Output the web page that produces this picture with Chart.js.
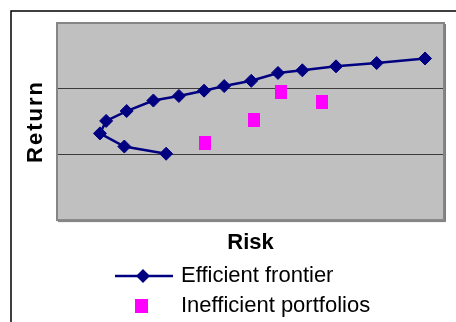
<!DOCTYPE html>
<html>
<head>
<meta charset="utf-8">
<title>Efficient frontier</title>
<script src="https://cdn.jsdelivr.net/npm/chart.js@4.4.1/dist/chart.umd.min.js"></script>
<style>
  body { margin: 0; background: #fff; }
  #wrap { width: 456px; height: 322px; }
</style>
</head>
<body>
<div id="wrap"><canvas id="frontierChart"></canvas></div>
<script>
// Verilen değerler (resimden okunan tahmini değerler)
const frontierRisk = [2.82, 1.74, 1.11, 1.27, 1.80, 2.49, 3.15, 3.80, 4.32, 5.02, 5.71, 6.34, 7.21, 8.26, 9.51];
const frontierReturn = [1.01, 1.12, 1.32, 1.51, 1.66, 1.82, 1.89, 1.97, 2.04, 2.12, 2.24, 2.28, 2.34, 2.39, 2.46];
const portfolioRisk = [3.82, 5.09, 5.79, 6.86];
const portfolioReturn = [1.18, 1.52, 1.95, 1.79];
const seriesNames = ["Efficient frontier", "Inefficient portfolios"];
const returnTicks = [0, 1, 2, 3];
const riskRange = [0, 10];

const NAVY = "#000080";
const MAGENTA = "#FF00FF";
const FONT = "Arial, 'Liberation Sans', sans-serif";

// Küçük ikon çizen yardımcı fonksiyon
function makeIcon(w, h, draw) {
    const c = document.createElement("canvas");
    c.width = w;
    c.height = h;
    draw(c.getContext("2d"));
    return c;
}

function diamond(ctx, x, y, r) {
    ctx.beginPath();
    ctx.moveTo(x - r, y);
    ctx.lineTo(x, y - r);
    ctx.lineTo(x + r, y);
    ctx.lineTo(x, y + r);
    ctx.closePath();
    ctx.fill();
}

const squareMark = makeIcon(12, 14, ctx => {
    ctx.fillStyle = MAGENTA;
    ctx.fillRect(0, 0, 12, 14);
});

const legendIcons = [
    makeIcon(58, 16, ctx => {
        ctx.strokeStyle = NAVY;
        ctx.lineWidth = 2.5;
        ctx.beginPath();
        ctx.moveTo(0, 8);
        ctx.lineTo(58, 8);
        ctx.stroke();
        ctx.fillStyle = NAVY;
        diamond(ctx, 28, 8, 7);
    }),
    makeIcon(58, 16, ctx => {
        ctx.fillStyle = MAGENTA;
        ctx.fillRect(20, 1, 13, 14);
    }),
];

// Arka plan, çerçeve ve lejant konumu
const plotFrame = {
    id: "plotFrame",
    afterLayout(chart) {
        const lg = chart.legend;
        const w = lg.right - lg.left;
        lg.left = 110;
        lg.right = 110 + w;

        const y = chart.scales.y;
        if (!y.spacedTitle) {
            const drawTitle = y.drawTitle;
            y.drawTitle = function () {
                this.ctx.save();
                this.ctx.letterSpacing = "2px";
                drawTitle.call(this);
                this.ctx.restore();
            };
            y.spacedTitle = true;
        }
    },
    beforeDraw(chart) {
        const { ctx, chartArea: a } = chart;
        ctx.save();
        ctx.fillStyle = "#fff";
        ctx.fillRect(0, 0, chart.width, chart.height);
        ctx.strokeStyle = "#000";
        ctx.lineWidth = 1.5;
        ctx.beginPath();
        ctx.moveTo(11, chart.height);
        ctx.lineTo(11, 11);
        ctx.lineTo(chart.width, 11);
        ctx.stroke();
        ctx.fillStyle = "#C0C0C0";
        ctx.fillRect(a.left, a.top, a.width, a.height);
        ctx.restore();
    },
    beforeDatasetsDraw(chart) {
        const { ctx, chartArea: a } = chart;
        ctx.save();
        ctx.strokeStyle = "#858585";
        ctx.lineWidth = 2;
        ctx.strokeRect(a.left, a.top, a.width, a.height);
        ctx.strokeStyle = "#7a7a7a";
        ctx.lineWidth = 1;
        ctx.beginPath();
        ctx.moveTo(a.left + 1, a.bottom + 1.5);
        ctx.lineTo(a.right + 1.5, a.bottom + 1.5);
        ctx.lineTo(a.right + 1.5, a.top + 1);
        ctx.stroke();
        ctx.restore();
    },
};

new Chart(document.getElementById("frontierChart"), {
    type: "scatter",
    data: {
        datasets: [
            {
                label: seriesNames[0],
                data: frontierRisk.map((r, i) => ({ x: r, y: frontierReturn[i] })),
                showLine: true,
                borderColor: NAVY,
                borderWidth: 2.5,
                backgroundColor: NAVY,
                pointStyle: "rectRot",
                pointRadius: 6.5,
                pointBorderWidth: 1,
                pointBorderColor: NAVY,
                pointBackgroundColor: NAVY,
                tension: 0,
            },
            {
                label: seriesNames[1],
                data: portfolioRisk.map((r, i) => ({ x: r, y: portfolioReturn[i] })),
                pointStyle: squareMark,
                backgroundColor: MAGENTA,
                borderColor: MAGENTA,
            },
        ],
    },
    options: {
        responsive: true,
        maintainAspectRatio: false,
        animation: false,
        layout: { padding: { top: 23, right: 12, left: 12, bottom: -5 } },
        plugins: {
            tooltip: { enabled: false },
            legend: {
                display: true,
                position: "bottom",
                align: "start",
                fullSize: false,
                labels: {
                    usePointStyle: true,
                    pointStyleWidth: 52,
                    padding: 8,
                    color: "#000",
                    font: { family: FONT, size: 22 },
                    generateLabels(chart) {
                        const items = Chart.defaults.plugins.legend.labels.generateLabels(chart);
                        items.forEach((item, i) => { item.pointStyle = legendIcons[i]; });
                        return items;
                    },
                },
            },
        },
        scales: {
            x: {
                type: "linear",
                min: riskRange[0],
                max: riskRange[1],
                grid: { display: false, drawTicks: false },
                border: { display: false },
                ticks: { display: false },
                title: {
                    display: true,
                    text: "Risk",
                    color: "#000",
                    font: { family: FONT, size: 22, weight: "bold" },
                    padding: { top: 10, bottom: 0.5 },
                },
            },
            y: {
                min: returnTicks[0],
                max: returnTicks[returnTicks.length - 1],
                ticks: { display: false, stepSize: 1 },
                grid: { color: "#3a3a3a", lineWidth: 1, drawTicks: false },
                border: { display: false },
                title: {
                    display: true,
                    text: "Return",
                    color: "#000",
                    font: { family: FONT, size: 22, weight: "bold" },
                    padding: { top: 10.8, bottom: 7.8 },
                },
            },
        },
    },
    plugins: [plotFrame],
});
</script>
</body>
</html>
